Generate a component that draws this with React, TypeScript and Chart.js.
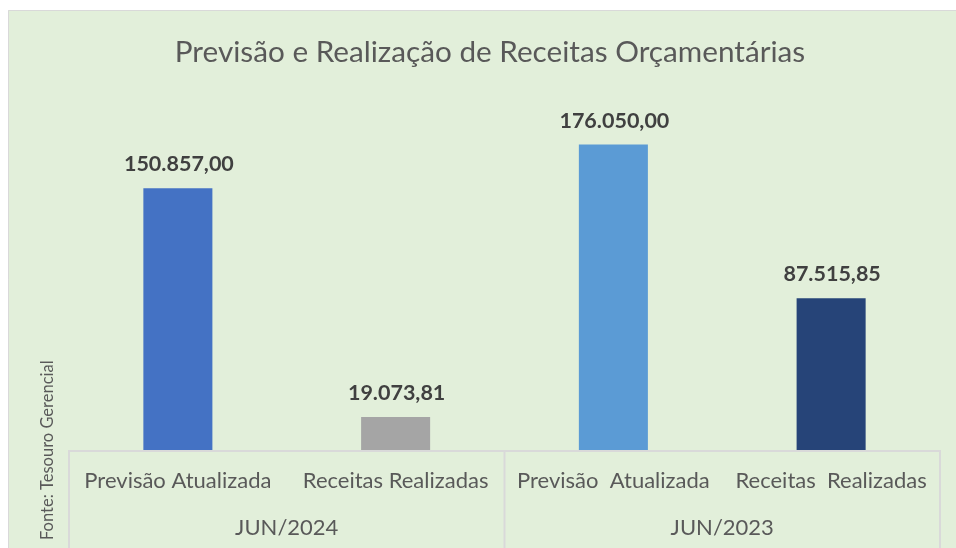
import React, { useEffect, useRef } from "react";
import { Chart, registerables } from "chart.js";

Chart.register(...registerables);

const TITLE = "Previsão e Realização de Receitas Orçamentárias";
const categories = ["Previsão Atualizada", "Receitas Realizadas", "Previsão  Atualizada", "Receitas  Realizadas"];
const groups = ["JUN/2024", "JUN/2023"];
const groupSizes = [2, 2];
const values = [150857.0, 19073.81, 176050.0, 87515.85];
const barColors = ["#4472c4", "#a5a5a5", "#5b9bd5", "#264478"];
const SOURCE = "Fonte: Tesouro Gerencial";
const Y_MAX = 200000;

const W = 948;
const H = 538;
const FONT = "Lato, 'Open Sans', sans-serif";

function fmt(v: number): string {
  const fixed = v.toFixed(2);
  const [intPart, dec] = fixed.split(".");
  const withDots = intPart.replace(/\B(?=(\d{3})+(?!\d))/g, ".");
  return withDots + "," + dec;
}

const drawPlugin = {
  id: "customDraw",
  beforeDraw(chart: any) {
    const ctx = chart.ctx;
    ctx.save();
    ctx.fillStyle = "#e2efda";
    ctx.fillRect(0, 0, W, H);
    ctx.strokeStyle = "#d9d9d9";
    ctx.lineWidth = 1;
    ctx.beginPath();
    ctx.moveTo(0.5, H);
    ctx.lineTo(0.5, 0.5);
    ctx.lineTo(W, 0.5);
    ctx.stroke();
    // title
    ctx.fillStyle = "#595959";
    ctx.font = `29.7px ${FONT}`;
    ctx.textAlign = "center";
    ctx.textBaseline = "alphabetic";
    ctx.fillText(TITLE, 482, 52);
    ctx.restore();
  },
  afterDatasetsDraw(chart: any) {
    const ctx = chart.ctx;
    const area = chart.chartArea;
    const xs = chart.scales.x;
    const meta = chart.getDatasetMeta(0);
    ctx.save();
    // axis line
    ctx.strokeStyle = "#d9d9d9";
    ctx.lineWidth = 2;
    ctx.beginPath();
    ctx.moveTo(area.left, area.bottom + 1);
    ctx.lineTo(area.right, area.bottom + 1);
    ctx.stroke();
    // group separators
    const n = categories.length;
    const step = (area.right - area.left) / n;
    const seps: number[] = [area.left];
    let acc = 0;
    groupSizes.forEach((s) => {
      acc += s;
      seps.push(area.left + acc * step);
    });
    ctx.beginPath();
    seps.forEach((x) => {
      ctx.moveTo(x, area.bottom);
      ctx.lineTo(x, H);
    });
    ctx.stroke();
    // category labels
    ctx.fillStyle = "#595959";
    ctx.font = `22px ${FONT}`;
    ctx.textAlign = "center";
    ctx.textBaseline = "alphabetic";
    categories.forEach((c, i) => {
      ctx.fillText(c, xs.getPixelForValue(i), area.bottom + 38);
    });
    // group labels
    groups.forEach((g, gi) => {
      const cx = (seps[gi] + seps[gi + 1]) / 2;
      ctx.fillText(g, cx, area.bottom + 85);
    });
    // data labels
    ctx.fillStyle = "#404040";
    ctx.font = `bold 21.5px ${FONT}`;
    meta.data.forEach((bar: any, i: number) => {
      ctx.fillText(fmt(values[i]), bar.x + 1, bar.y - 17);
    });
    // source
    ctx.fillStyle = "#595959";
    ctx.font = `16.5px ${FONT}`;
    ctx.translate(45, 530);
    ctx.rotate(-Math.PI / 2);
    ctx.textAlign = "left";
    ctx.fillText(SOURCE, 0, 0);
    ctx.restore();
  },
};

export default function App() {
  const ref = useRef<HTMLCanvasElement>(null);
  useEffect(() => {
    if (!ref.current) return;
    const chart = new Chart(ref.current, {
      type: "bar",
      data: {
        labels: categories,
        datasets: [
          {
            data: values,
            backgroundColor: barColors,
            borderWidth: 0,
            barPercentage: 0.317,
            categoryPercentage: 1,
          },
        ],
      },
      options: {
        animation: false,
        responsive: false,
        devicePixelRatio: 1,
        layout: { padding: { left: 61, right: 16, top: 93, bottom: 98 } },
        scales: {
          x: { display: false, offset: true },
          y: { display: false, min: 0, max: Y_MAX },
        },
        plugins: {
          legend: { display: false },
          tooltip: { enabled: false },
          title: { display: false },
        },
      },
      plugins: [drawPlugin],
    });
    return () => chart.destroy();
  }, []);
  return (
    <div style={{ position: "absolute", left: 8, top: 10, width: W, height: H }}>
      <canvas ref={ref} width={W} height={H} style={{ width: W, height: H, display: "block" }} />
    </div>
  );
}
